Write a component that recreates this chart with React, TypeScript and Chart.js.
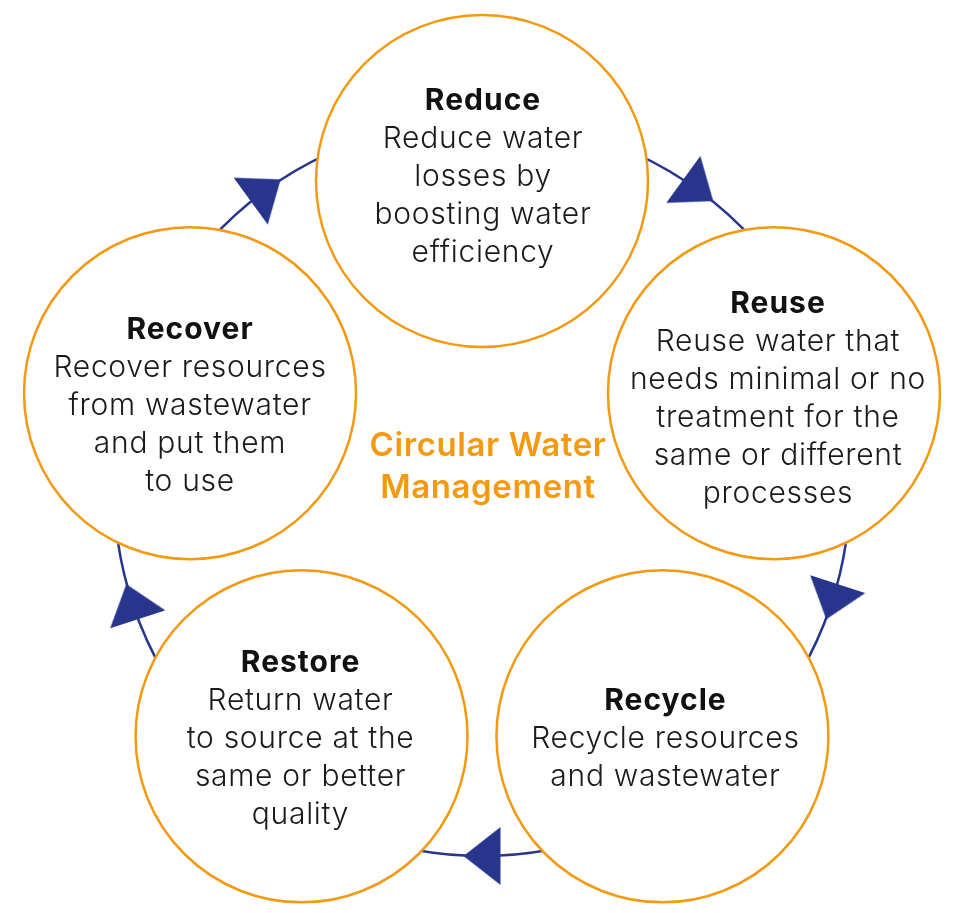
import React, { useEffect, useRef } from 'react';
import { Chart, registerables } from 'chart.js';

Chart.register(...registerables);

// ---- data ----
const stageTitles = ['Reduce', 'Reuse', 'Recycle', 'Restore', 'Recover'];
const stageDescriptions = [
  ['Reduce water', 'losses by', 'boosting water', 'efficiency'],
  ['Reuse water that', 'needs minimal or no', 'treatment for the', 'same or different', 'processes'],
  ['Recycle resources', 'and wastewater'],
  ['Return water', 'to source at the', 'same or better', 'quality'],
  ['Recover resources', 'from wastewater', 'and put them', 'to use'],
];
const stageAngles = [90, 18, -54, -126, 162]; // degrees around the cycle
const arrowAngles = [54, -18, -90, -162, 126]; // arrows between stages
const centerLabel = ['Circular Water', 'Management'];
const layoutRadius = 307; // distance of stage centres from cycle centre
const stageRadius = 166; // stage circle radius
const ringRadius = 368; // cycle ring radius

// ---- style / layout tweaks (pixels) ----
const labelNudgeX = [1, 4, 3, -1, 0];
const labelNudgeY = [-4, 6, 3, 3, 13];

const ORANGE = '#F39A12';
const NAVY = '#27358C';

const rad = (d: number) => (d * Math.PI) / 180;
const pxLen = (chart: any, v: number) =>
  Math.abs(chart.scales.x.getPixelForValue(v) - chart.scales.x.getPixelForValue(0));

function makeArrowImage() {
  const c = document.createElement('canvas');
  const h = 37;
  const w = 58;
  c.width = h + 2;
  c.height = w + 2;
  const g = c.getContext('2d')!;
  g.fillStyle = NAVY;
  g.beginPath();
  g.moveTo(1, 1);
  g.lineTo(1 + h, 1 + w / 2);
  g.lineTo(1, 1 + w);
  g.closePath();
  g.fill();
  return c;
}

const ringPlugin = {
  id: 'ring',
  beforeDatasetsDraw(chart: any) {
    const { ctx, scales } = chart;
    const cx = scales.x.getPixelForValue(0);
    const cy = scales.y.getPixelForValue(0);
    ctx.save();
    ctx.strokeStyle = NAVY;
    ctx.lineWidth = 2.5;
    ctx.beginPath();
    ctx.arc(cx, cy, pxLen(chart, ringRadius), 0, Math.PI * 2);
    ctx.stroke();
    ctx.restore();
  },
};

const textPlugin = {
  id: 'stageText',
  afterDatasetsDraw(chart: any) {
    const { ctx, scales } = chart;
    ctx.save();
    ctx.textAlign = 'center';
    ctx.textBaseline = 'middle';
    const lh = 38;
    stageTitles.forEach((t, i) => {
      const a = rad(stageAngles[i]);
      const cx = scales.x.getPixelForValue(layoutRadius * Math.cos(a)) + labelNudgeX[i];
      const cy = scales.y.getPixelForValue(layoutRadius * Math.sin(a)) + labelNudgeY[i];
      const lines = [t, ...stageDescriptions[i]];
      const y0 = cy - ((lines.length - 1) * lh) / 2;
      lines.forEach((ln, j) => {
        if (j === 0) {
          ctx.font = '700 30px Inter';
          (ctx as any).letterSpacing = '1px';
          ctx.fillStyle = '#111111';
        } else {
          ctx.font = '300 30px Inter';
          (ctx as any).letterSpacing = '0.7px';
          ctx.fillStyle = '#1a1a1a';
        }
        ctx.fillText(ln, cx, y0 + j * lh);
      });
    });
    const ccx = scales.x.getPixelForValue(0) + 6;
    const ccy = scales.y.getPixelForValue(0) - 21;
    ctx.font = '600 33px Inter';
    (ctx as any).letterSpacing = '0.6px';
    ctx.fillStyle = ORANGE;
    centerLabel.forEach((ln, j) => {
      ctx.fillText(ln, ccx, ccy + (j - (centerLabel.length - 1) / 2) * 42);
    });
    ctx.restore();
  },
};

export default function App() {
  const ref = useRef<HTMLCanvasElement | null>(null);
  useEffect(() => {
    document.body.style.margin = '0';
    if (!ref.current) return;
    const arrowImg = makeArrowImage();
    const chart = new Chart(ref.current, {
      type: 'scatter',
      data: {
        datasets: [
          {
            label: 'arrows',
            order: 0,
            data: arrowAngles.map((a) => ({ x: ringRadius * Math.cos(rad(a)), y: ringRadius * Math.sin(rad(a)) })),
            pointStyle: arrowImg as any,
            pointRadius: 10,
            pointHoverRadius: 10,
            rotation: (ctx: any) => 90 - arrowAngles[ctx.dataIndex],
            clip: false,
          } as any,
          {
            label: 'stages',
            order: 1,
            data: stageAngles.map((a) => ({ x: layoutRadius * Math.cos(rad(a)), y: layoutRadius * Math.sin(rad(a)) })),
            pointRadius: (ctx: any) => pxLen(ctx.chart, stageRadius),
            pointHoverRadius: (ctx: any) => pxLen(ctx.chart, stageRadius),
            pointBackgroundColor: '#ffffff',
            pointBorderColor: ORANGE,
            pointBorderWidth: 2.5,
            pointHoverBorderWidth: 2.5,
            clip: false,
          } as any,
        ],
      },
      options: {
        animation: false,
        responsive: false,
        events: [],
        layout: { padding: 0, autoPadding: false },
        plugins: { legend: { display: false }, tooltip: { enabled: false } },
        scales: {
          x: { type: 'linear', min: -482, max: 475, display: false },
          y: { type: 'linear', min: -425, max: 488, display: false },
        },
      },
      plugins: [ringPlugin, textPlugin],
    });
    return () => chart.destroy();
  }, []);
  return (
    <div style={{ width: 957, height: 913, background: '#ffffff' }}>
      <canvas ref={ref} width={957} height={913} style={{ display: 'block' }} />
    </div>
  );
}
